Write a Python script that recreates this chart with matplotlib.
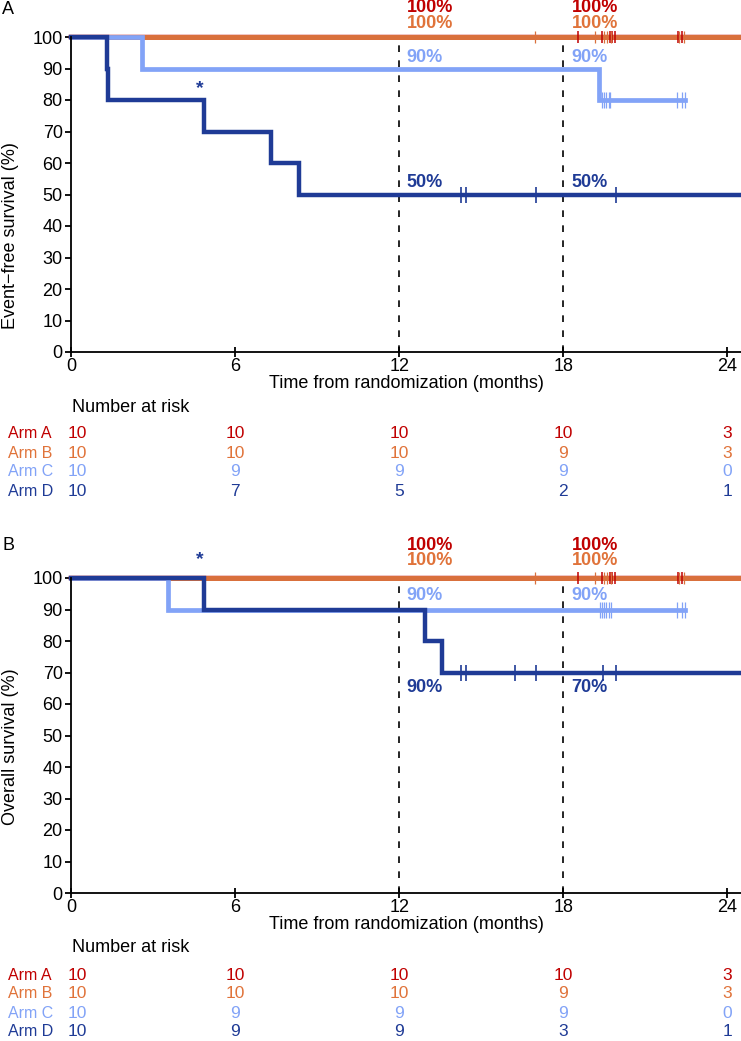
import numpy as np
import matplotlib
matplotlib.use('Agg')
import matplotlib.pyplot as plt

plt.rcParams['font.family'] = ['Liberation Sans', 'DejaVu Sans']

# cores dos braços
cor_a = '#C00000'
cor_b = '#E0733A'
cor_c = '#82A3F7'
cor_d = '#1F3B96'

# ---- dados (meses / %) ----
risco_t = [0, 6, 12, 18, 24]

# painel A - sobrevida livre de eventos
efs_a_t = [0, 24.5]
efs_a_s = [100, 100]
efs_a_cens = [18.55, 19.4, 19.7, 19.8, 19.9, 22.2, 22.35]
efs_b_t = [0, 24.5]
efs_b_s = [100, 100]
efs_b_cens = [16.95, 19.15, 19.5, 19.6, 19.75, 22.25, 22.4]
efs_c_t = [0, 2.6, 19.3, 22.45]
efs_c_s = [100, 90, 80, 80]
efs_c_cens = [19.42, 19.5, 19.58, 19.66, 19.72, 22.15, 22.33, 22.45]
efs_d_t = [0, 1.3, 1.36, 4.85, 7.3, 8.35, 24.5]
efs_d_s = [100, 90, 80, 70, 60, 50, 50]
efs_d_cens = [14.25, 14.45, 17.0, 19.92]

efs_risco_a = [10, 10, 10, 10, 3]
efs_risco_b = [10, 10, 10, 9, 3]
efs_risco_c = [10, 9, 9, 9, 0]
efs_risco_d = [10, 7, 5, 2, 1]

# painel B - sobrevida global
os_a_t = [0, 24.5]
os_a_s = [100, 100]
os_a_cens = [18.55, 19.4, 19.7, 19.8, 19.9, 22.2, 22.35]
os_b_t = [0, 24.5]
os_b_s = [100, 100]
os_b_cens = [16.95, 19.15, 19.5, 19.6, 19.75, 22.25, 22.4]
os_c_t = [0, 3.55, 22.45]
os_c_s = [100, 90, 90]
os_c_cens = [19.34, 19.42, 19.5, 19.58, 19.66, 19.74, 22.16, 22.34, 22.44]
os_d_t = [0, 4.85, 12.95, 13.55, 24.5]
os_d_s = [100, 90, 80, 70, 70]
os_d_cens = [14.27, 14.45, 16.22, 17.0, 19.45, 19.93]

os_risco_a = [10, 10, 10, 10, 3]
os_risco_b = [10, 10, 10, 9, 3]
os_risco_c = [10, 9, 9, 9, 0]
os_risco_d = [10, 9, 9, 3, 1]

W, H = 741, 1041
fig = plt.figure(figsize=(W / 100, H / 100), dpi=100)


def nivel(t, s, tc):
    t = np.asarray(t)
    idx = np.searchsorted(t, tc, side='right') - 1
    return np.asarray(s)[idx]


def painel(topo, base, curvas, riscos, ylabel, ylab_y, rotulos, asterisco):
    ax = fig.add_axes([71 / W, 1 - base / H, (W - 71) / W, (base - topo) / H])
    ax.set_xlim(0, 24.5)
    ax.set_ylim(0, 100)
    for sp in ['top', 'right']:
        ax.spines[sp].set_visible(False)
    for sp in ['left', 'bottom']:
        ax.spines[sp].set_linewidth(1.3)
    ax.set_xticks(risco_t)
    ax.set_yticks(range(0, 101, 10))
    ax.tick_params(axis='y', direction='out', length=4, width=1.3, labelsize=13, pad=2)
    ax.tick_params(axis='x', direction='inout', length=7, width=1.3, labelsize=13, pad=1)
    ax.set_xlabel('Time from randomization (months)', fontsize=13, labelpad=0)
    ax.set_ylabel(ylabel, fontsize=13)
    ax.yaxis.set_label_coords(-0.077, ylab_y)

    ax.vlines([12, 18], 0, 100, colors='black', linestyles=(0, (4, 5)), linewidth=1.2, zorder=1)

    # linhas (ordem: A, B, C, D por cima)
    for (t, s, c, cens, lw, ms, mw) in curvas:
        ax.step(t, s, where='post', color=c, lw=lw, clip_on=False, zorder=2,
                solid_joinstyle='miter')
    for (t, s, c, cens, lw, ms, mw) in curvas:
        ax.plot(cens, nivel(t, s, cens), ls='none', marker='|', color=c,
                ms=ms, mew=mw, clip_on=False, zorder=3)

    for (x, y, txt, c) in rotulos:
        ax.text(x, y, txt, color=c, fontsize=13, fontweight='bold',
                ha='left', va='center', clip_on=False)
    ax.text(asterisco[0], asterisco[1], '*', color=cor_d, fontsize=14,
            fontweight='bold', ha='center', va='center', clip_on=False)

    # número em risco
    ax.annotate('Number at risk', xy=(0, 0), xycoords=('data', 'axes fraction'),
                xytext=(1, -55), textcoords='offset pixels', fontsize=13,
                ha='left', va='center', annotation_clip=False)
    nomes = ['Arm A', 'Arm B', 'Arm C', 'Arm D']
    cores = [cor_a, cor_b, cor_c, cor_d]
    for i, (nome, cor, vals) in enumerate(zip(nomes, cores, riscos)):
        dy = -(82 + 19 * i)
        ax.annotate(nome, xy=(0, 0), xycoords=('data', 'axes fraction'),
                    xytext=(8 - 71, dy), textcoords='offset pixels', fontsize=11.5,
                    color=cor, ha='left', va='center', annotation_clip=False)
        for j, (t, v) in enumerate(zip(risco_t, vals)):
            ax.annotate(str(v), xy=(t, 0), xycoords=('data', 'axes fraction'),
                        xytext=(-3 if j == 0 else 0, dy), textcoords='offset pixels',
                        fontsize=12.5, color=cor, ha='left' if j == 0 else 'center',
                        va='center', annotation_clip=False)
    return ax


curvas_efs = [
    (efs_a_t, efs_a_s, cor_a, efs_a_cens, 3.2, 9, 1.1),
    (efs_b_t, efs_b_s, '#D9703C', efs_b_cens, 3.6, 9, 0.9),
    (efs_c_t, efs_c_s, cor_c, efs_c_cens, 3.4, 12, 0.9),
    (efs_d_t, efs_d_s, cor_d, efs_d_cens, 3.2, 12, 1.2),
]
rot_efs = [
    (12.28, 109.4, '100%', cor_a), (18.3, 109.4, '100%', cor_a),
    (12.28, 104.3, '100%', cor_b), (18.3, 104.3, '100%', cor_b),
    (12.28, 93.5, '90%', cor_c), (18.3, 93.5, '90%', cor_c),
    (12.28, 53.7, '50%', cor_d), (18.3, 53.7, '50%', cor_d),
]
painel(37, 352, curvas_efs, [efs_risco_a, efs_risco_b, efs_risco_c, efs_risco_d],
       'Event\u2212free survival (%)', 0.37, rot_efs, (4.72, 83.5))

curvas_os = [
    (os_a_t, os_a_s, cor_a, os_a_cens, 3.2, 9, 1.1),
    (os_b_t, os_b_s, '#D9703C', os_b_cens, 3.6, 9, 0.9),
    (os_c_t, os_c_s, cor_c, os_c_cens, 3.4, 12, 0.9),
    (os_d_t, os_d_s, cor_d, os_d_cens, 3.2, 12, 1.2),
]
rot_os = [
    (12.28, 110.2, '100%', cor_a), (18.3, 110.2, '100%', cor_a),
    (12.28, 105.4, '100%', cor_b), (18.3, 105.4, '100%', cor_b),
    (12.28, 94.6, '90%', cor_c), (18.3, 94.6, '90%', cor_c),
    (12.28, 65.1, '90%', cor_d), (18.3, 65.1, '70%', cor_d),
]
painel(578, 893, curvas_os, [os_risco_a, os_risco_b, os_risco_c, os_risco_d],
       'Overall survival (%)', 0.464, rot_os, (4.72, 105.7))

fig.text(2 / W, 1 - 9 / H, 'A', fontsize=13, ha='left', va='center')
fig.text(2 / W, 1 - 545 / H, 'B', fontsize=13, ha='left', va='center')

fig.savefig('out.png', dpi=100)
